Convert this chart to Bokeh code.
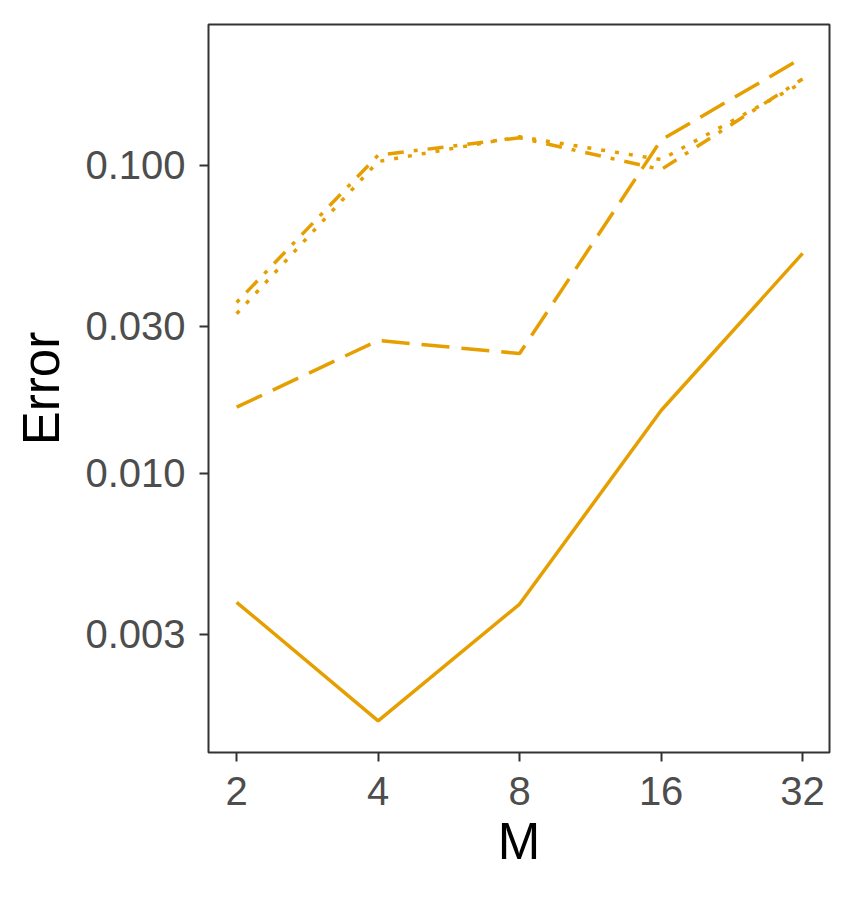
from bokeh.plotting import figure
from bokeh.models import Range1d, FixedTicker, PrintfTickFormatter
from bokeh.embed import file_html
from bokeh.resources import INLINE

M = [2, 4, 8, 16, 32]
err_solid = [0.00381, 0.00157, 0.00376, 0.0160, 0.0518]
err_longdash = [0.0164, 0.0270, 0.0245, 0.121, 0.224]
err_dotdash = [0.0359, 0.108, 0.123, 0.097, 0.191]
err_dotted = [0.0330, 0.103, 0.124, 0.1045, 0.186]

x_ticks = [2, 4, 8, 16, 32]
y_ticks = [0.003, 0.01, 0.03, 0.1]

COLOR = "#E69F00"
FONT = "Liberation Sans"

p = figure(
    x_axis_type="log", y_axis_type="log",
    x_range=Range1d(2 ** 0.801, 2 ** 5.19),
    y_range=Range1d(10 ** -2.907, 10 ** -0.542),
    frame_width=621, frame_height=728,
    min_border_left=208, min_border_top=24, min_border_right=18, min_border_bottom=130,
    output_backend="svg", toolbar_location=None,
    background_fill_color="white", border_fill_color="white",
)

p.line(M, err_solid, line_color=COLOR, line_width=3.5)
p.line(M, err_longdash, line_color=COLOR, line_width=3.5, line_dash="28 12")
p.line(M, err_dotdash, line_color=COLOR, line_width=3.5, line_dash="4 10 16 10")
p.line(M, err_dotted, line_color=COLOR, line_width=3.5, line_dash="4 10")

p.grid.visible = False
p.outline_line_color = "#333333"
p.outline_line_width = 2
p.outline_line_alpha = 1.0

p.xaxis.ticker = FixedTicker(ticks=x_ticks)
p.xaxis.formatter = PrintfTickFormatter(format="%d")
p.yaxis.ticker = FixedTicker(ticks=y_ticks)
p.yaxis.formatter = PrintfTickFormatter(format="%.3f")

for ax in (p.xaxis[0], p.yaxis[0]):
    ax.axis_line_color = None
    ax.major_tick_line_color = "#333333"
    ax.major_tick_line_width = 2
    ax.major_tick_out = 9
    ax.major_tick_in = 0
    ax.minor_tick_line_color = None
    ax.major_label_text_font = FONT
    ax.major_label_text_font_size = "40px"
    ax.major_label_text_color = "#4D4D4D"
    ax.axis_label_text_font = FONT
    ax.axis_label_text_font_size = "51px"
    ax.axis_label_text_font_style = "normal"
    ax.axis_label_text_color = "black"

p.xaxis.axis_label = "M"
p.yaxis.axis_label = "Error"
p.xaxis.major_label_standoff = 15
p.yaxis.major_label_standoff = 14
p.xaxis.axis_label_standoff = 5
p.yaxis.axis_label_standoff = 12

open("out.html", "w").write(file_html(p, INLINE))
